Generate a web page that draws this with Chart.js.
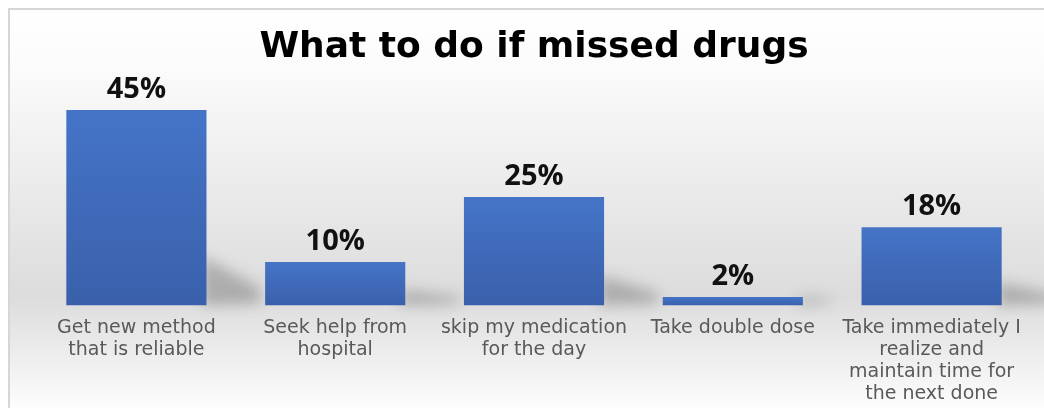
<!DOCTYPE html>
<html>
<head>
<meta charset="utf-8">
<script src="https://cdn.jsdelivr.net/npm/chart.js@4/dist/chart.umd.min.js"></script>
<style>
  html, body { margin: 0; padding: 0; background: #fff; }
  #wrap { width: 1044px; height: 408px; }
</style>
</head>
<body>
<div id="wrap"><canvas id="missed_chart" width="1044" height="408"></canvas></div>
<script>
// answers and their share (%)
const answers = [
    ['Get new method', 'that is reliable'],
    ['Seek help from', 'hospital'],
    ['skip my medication', 'for the day'],
    ['Take double dose'],
    ['Take immediately I', 'realize and', 'maintain time for', 'the next done']
];
const shares = [45, 10, 25, 2, 18];
const chartTitle = 'What to do if missed drugs';

// grey panel with a soft vertical shading and a thin frame
const panelBg = {
    id: 'panelBg',
    beforeDraw(chart) {
        const ctx = chart.ctx;
        const w = chart.width, h = chart.height;
        ctx.save();
        ctx.fillStyle = '#ffffff';
        ctx.fillRect(0, 0, w, h);
        const g = ctx.createLinearGradient(0, 9, 0, h);
        g.addColorStop(0, '#ffffff');
        g.addColorStop(0.15, '#fbfbfb');
        g.addColorStop(0.72, '#dcdcdc');
        g.addColorStop(0.85, '#ebebeb');
        g.addColorStop(1, '#fdfdfd');
        ctx.fillStyle = g;
        ctx.fillRect(9, 9, w, h);
        ctx.strokeStyle = '#d6d6d6';
        ctx.lineWidth = 2;
        ctx.strokeRect(9, 9, w + 10, h + 10);
        ctx.restore();
    }
};

// floor shadow to the right of each bar, smaller for short bars
const barShadow = {
    id: 'barShadow',
    beforeDatasetsDraw(chart) {
        const ctx = chart.ctx;
        const meta = chart.getDatasetMeta(0);
        ctx.save();
        ctx.filter = 'blur(7px)';
        ctx.fillStyle = 'rgba(70, 70, 70, 0.32)';
        meta.data.forEach(function (bar) {
            const xr = bar.x + bar.width / 2;
            const base = bar.base;
            const h = base - bar.y;
            const reach = bar.width * 0.38 * Math.min(1, 0.35 + h / 60);
            ctx.beginPath();
            ctx.moveTo(xr - 4, base);
            ctx.lineTo(xr - 4, base - h * 0.22 - 6);
            ctx.lineTo(xr + reach, base - h * 0.06 - 6);
            ctx.lineTo(xr + reach, base - 2);
            ctx.closePath();
            ctx.fill();
        });
        ctx.restore();
    }
};

// percentage above every bar
const valueLabels = {
    id: 'valueLabels',
    afterDatasetsDraw(chart) {
        const ctx = chart.ctx;
        const meta = chart.getDatasetMeta(0);
        ctx.save();
        ctx.font = 'bold 29px "Open Sans"';
        ctx.fillStyle = '#111111';
        ctx.textAlign = 'center';
        ctx.textBaseline = 'alphabetic';
        meta.data.forEach(function (bar, i) {
            ctx.fillText(shares[i] + '%', bar.x, bar.y - 12);
        });
        ctx.restore();
    }
};

const ctx = document.getElementById('missed_chart').getContext('2d');
const missed_chart = new Chart(ctx, {
    type: 'bar',
    data: {
        labels: answers,
        datasets: [{
            label: 'Share',
            data: shares,
            backgroundColor: function (c) {
                const chart = c.chart;
                if (!chart.chartArea || c.parsed === undefined) return '#4472c4';
                const y = chart.scales.y;
                const top = y.getPixelForValue(c.parsed.y);
                const bottom = y.getPixelForValue(0);
                const g = chart.ctx.createLinearGradient(0, top, 0, bottom);
                g.addColorStop(0, '#4574c7');
                g.addColorStop(1, '#3a60ab');
                return g;
            },
            borderWidth: 0,
            categoryPercentage: 0.705,
            barPercentage: 1
        }]
    },
    options: {
        responsive: false,
        animation: false,
        layout: {
            padding: { top: 8, left: 37, right: 13, bottom: -9 }
        },
        plugins: {
            legend: { display: false },
            tooltip: { enabled: false },
            title: {
                display: true,
                text: chartTitle,
                color: '#000000',
                font: { family: 'DejaVu Sans', size: 36, weight: 'bold' },
                padding: { top: 18, bottom: 19 }
            }
        },
        scales: {
            x: {
                grid: { display: false, drawTicks: false },
                border: { display: false },
                ticks: {
                    color: '#595959',
                    font: { family: 'DejaVu Sans', size: 19, lineHeight: 1.15 },
                    padding: 12,
                    maxRotation: 0,
                    autoSkip: false
                }
            },
            y: {
                display: false,
                min: 0,
                max: 50
            }
        }
    },
    plugins: [panelBg, barShadow, valueLabels]
});
</script>
</body>
</html>
